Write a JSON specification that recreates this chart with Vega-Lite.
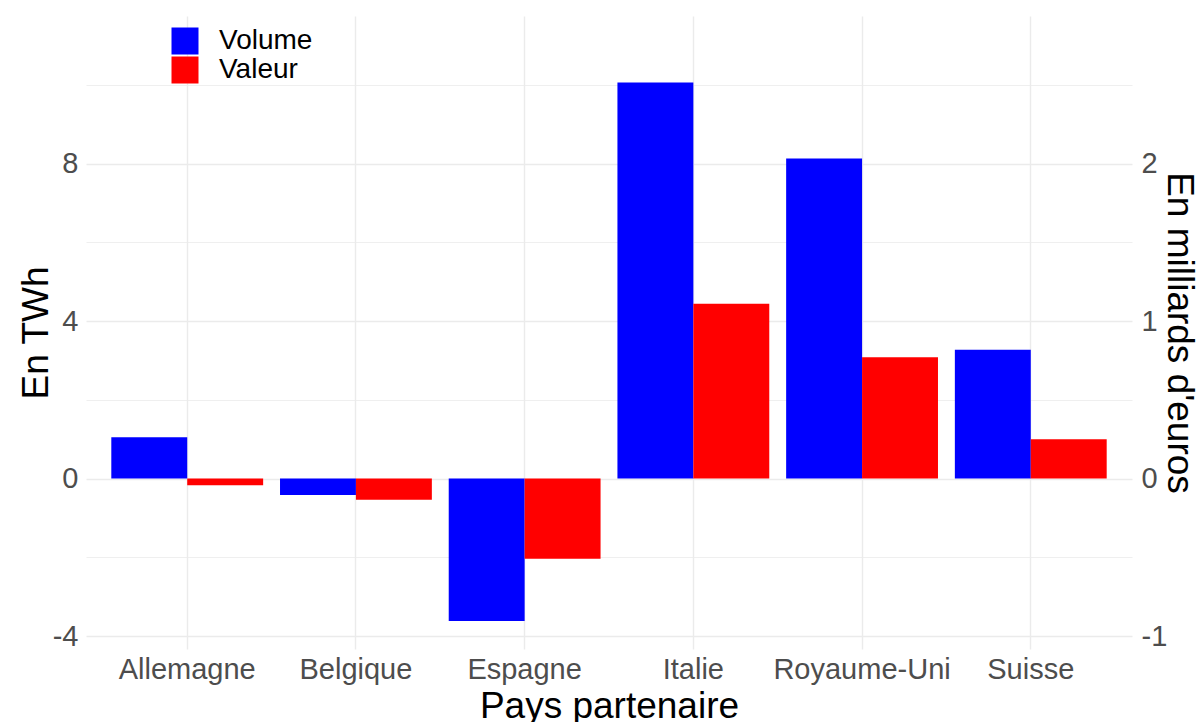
{
  "$schema": "https://vega.github.io/schema/vega-lite/v6.json",
  "width": 1046,
  "height": 633,
  "autosize": {"type": "none"},
  "padding": {"left": 86, "top": 16, "right": 72, "bottom": 73},
  "background": "white",
  "config": {
    "view": {"stroke": null},
    "font": "Liberation Sans",
    "axis": {
      "domain": false,
      "ticks": false,
      "labelFont": "Liberation Sans",
      "labelFontSize": 29,
      "labelColor": "#4D4D4D",
      "titleFont": "Liberation Sans",
      "titleFontSize": 37,
      "titleFontWeight": "normal",
      "titleColor": "#000000",
      "gridColor": "#EBEBEB"
    }
  },
  "data": {
    "values": [
      {"pays": "Allemagne", "serie": "Volume", "valeur": 1.05},
      {"pays": "Allemagne", "serie": "Valeur", "valeur": -0.043},
      {"pays": "Belgique", "serie": "Volume", "valeur": -0.42},
      {"pays": "Belgique", "serie": "Valeur", "valeur": -0.134},
      {"pays": "Espagne", "serie": "Volume", "valeur": -3.62},
      {"pays": "Espagne", "serie": "Valeur", "valeur": -0.51},
      {"pays": "Italie", "serie": "Volume", "valeur": 10.06},
      {"pays": "Italie", "serie": "Valeur", "valeur": 1.11},
      {"pays": "Royaume-Uni", "serie": "Volume", "valeur": 8.13},
      {"pays": "Royaume-Uni", "serie": "Valeur", "valeur": 0.77},
      {"pays": "Suisse", "serie": "Volume", "valeur": 3.27},
      {"pays": "Suisse", "serie": "Valeur", "valeur": 0.25}
    ]
  },
  "encoding": {
    "x": {
      "field": "pays",
      "type": "nominal",
      "sort": ["Allemagne", "Belgique", "Espagne", "Italie", "Royaume-Uni", "Suisse"],
      "scale": {"paddingInner": 0.1, "paddingOuter": 0.15},
      "axis": {
        "title": "Pays partenaire",
        "labelAngle": 0,
        "labelPadding": 6,
        "titlePadding": 4,
        "grid": true,
        "bandPosition": 0.5,
        "gridWidth": 1.4
      }
    },
    "xOffset": {
      "field": "serie",
      "type": "nominal",
      "scale": {"domain": ["Volume", "Valeur"], "paddingInner": 0, "paddingOuter": 0}
    },
    "color": {
      "field": "serie",
      "type": "nominal",
      "scale": {"domain": ["Volume", "Valeur"], "range": ["#0000FF", "#FF0000"]},
      "legend": {
        "orient": "none",
        "legendX": 85,
        "legendY": 11,
        "title": null,
        "symbolType": "square",
        "symbolSize": 729,
        "symbolStrokeWidth": 0,
        "labelFont": "Liberation Sans",
        "labelFontSize": 28,
        "labelColor": "#000000",
        "labelOffset": 20,
        "rowPadding": 1,
        "padding": 0
      }
    }
  },
  "layer": [
    {
      "transform": [{"filter": "datum.serie === 'Volume'"}],
      "mark": {"type": "bar"},
      "encoding": {
        "y": {
          "field": "valeur",
          "type": "quantitative",
          "scale": {"domain": [-4.33, 11.75], "nice": false},
          "axis": {
            "orient": "left",
            "title": "En TWh",
            "values": [-4, -2, 0, 2, 4, 6, 8, 10],
            "labelExpr": "datum.value % 4 === 0 ? replace(datum.label, '\u2212', '-') : ''",
            "labelPadding": 8,
            "titlePadding": -3,
            "grid": true,
            "gridWidth": {"condition": {"test": "datum.value % 4 === 0", "value": 1.4}, "value": 0.8}
          }
        }
      }
    },
    {
      "transform": [{"filter": "datum.serie === 'Valeur'"}],
      "mark": {"type": "bar"},
      "encoding": {
        "y": {
          "field": "valeur",
          "type": "quantitative",
          "scale": {"domain": [-1.0825, 2.9375], "nice": false},
          "axis": {
            "orient": "right",
            "title": "En milliards d'euros",
            "values": [-1, 0, 1, 2],
            "labelExpr": "replace(datum.label, '\u2212', '-')",
            "labelPadding": 9,
            "titlePadding": -7,
            "grid": false
          }
        }
      }
    }
  ],
  "resolve": {"scale": {"y": "independent"}, "axis": {"y": "independent"}}
}
